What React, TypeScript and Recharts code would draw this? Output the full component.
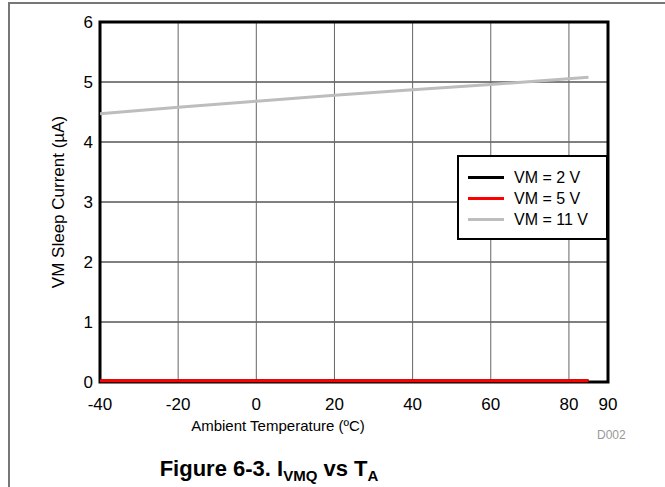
import {
  LineChart,
  Line,
  XAxis,
  YAxis,
  CartesianGrid,
  Legend,
  ReferenceArea,
  Label,
} from "recharts";

const FONT = '"Liberation Sans", Arial, sans-serif';

const temps = [-40, -20, 0, 20, 40, 60, 85];
const vm2 = [0.02, 0.02, 0.02, 0.02, 0.02, 0.02, 0.02];
const vm5 = [0.02, 0.02, 0.02, 0.02, 0.02, 0.02, 0.02];
const vm11 = [4.47, 4.58, 4.68, 4.78, 4.87, 4.96, 5.08];

const xTicks = [-40, -20, 0, 20, 40, 60, 80, 90];
const yTicks = [0, 1, 2, 3, 4, 5, 6];

const series = [
  { key: "vm2", name: "VM = 2 V", color: "#000000" },
  { key: "vm5", name: "VM = 5 V", color: "#ff0000" },
  { key: "vm11", name: "VM = 11 V", color: "#bdbdbd" },
];

const data = temps.map((t, i) => ({ t, vm2: vm2[i], vm5: vm5[i], vm11: vm11[i] }));

function LegendBox() {
  return (
    <div
      style={{
        width: 151,
        height: 85,
        border: "2px solid #000",
        background: "#fff",
        fontFamily: FONT,
        fontSize: 16,
        paddingTop: 10,
        boxSizing: "border-box",
      }}
    >
      {series.map((s) => (
        <div key={s.key} style={{ display: "flex", alignItems: "center", height: 21 }}>
          <span style={{ display: "inline-block", marginLeft: 9, width: 36, height: 3, background: s.color }} />
          <span style={{ marginLeft: 10, color: "#000" }}>{s.name}</span>
        </div>
      ))}
    </div>
  );
}

export default function App() {
  return (
    <div style={{ position: "absolute", left: 0, top: 0, width: 665, height: 487, background: "#fff", overflow: "hidden" }}>
      <div
        style={{
          position: "absolute",
          left: 8,
          top: 2,
          width: 680,
          height: 500,
          borderLeft: "2px solid #777",
          borderTop: "2px solid #777",
        }}
      />
      <LineChart
        width={665}
        height={487}
        data={data}
        margin={{ top: 22, right: 57, bottom: 75, left: 40 }}
        style={{ position: "absolute", left: 0, top: 0, fontFamily: FONT }}
      >
        <CartesianGrid vertical={false} stroke="#000" strokeWidth={1} />
        <CartesianGrid horizontal={false} stroke="#666" strokeWidth={1} />
        <XAxis
          dataKey="t"
          type="number"
          domain={[-40, 90]}
          ticks={xTicks}
          axisLine={false}
          tickLine={false}
          tickMargin={10}
          height={30}
          tick={{ fill: "#000", fontSize: 17 }}
          interval={0}
        >
          <Label value="Ambient Temperature (ºC)" position="insideBottom" offset={-19} dx={-76} fill="#000" fontSize={15} />
        </XAxis>
        <YAxis
          type="number"
          domain={[0, 6]}
          ticks={yTicks}
          axisLine={false}
          tickLine={false}
          tickMargin={1}
          width={60}
          tick={{ fill: "#000", fontSize: 17 }}
          interval={0}
        >
          <Label value="VM Sleep Current (µA)" angle={-90} position="insideLeft" offset={18} fill="#000" fontSize={17} style={{ textAnchor: "middle" }} />
        </YAxis>
        <ReferenceArea x1={-40} x2={90} y1={0} y2={6} fill="none" stroke="#000" strokeWidth={3} ifOverflow="visible" />
        {series.map((s) => (
          <Line
            key={s.key}
            dataKey={s.key}
            name={s.name}
            stroke={s.color}
            strokeWidth={3}
            dot={false}
            type="linear"
            isAnimationActive={false}
          />
        ))}
        <Legend
          layout="vertical"
          align="center"
          verticalAlign="middle"
          content={() => <LegendBox />}
          wrapperStyle={{ position: "absolute", left: 457, top: 155, width: 151, height: 85 }}
        />
      </LineChart>
      <div style={{ position: "absolute", left: 597, top: 428, fontFamily: FONT, fontSize: 12, color: "#999" }}>D002</div>
      <div
        style={{
          position: "absolute",
          left: 0,
          width: 538,
          top: 456,
          textAlign: "center",
          fontFamily: FONT,
          fontWeight: "bold",
          fontSize: 22,
          color: "#000",
        }}
      >
        Figure 6-3. I<sub style={{ fontSize: 15 }}>VMQ</sub> vs T<sub style={{ fontSize: 15 }}>A</sub>
      </div>
    </div>
  );
}
